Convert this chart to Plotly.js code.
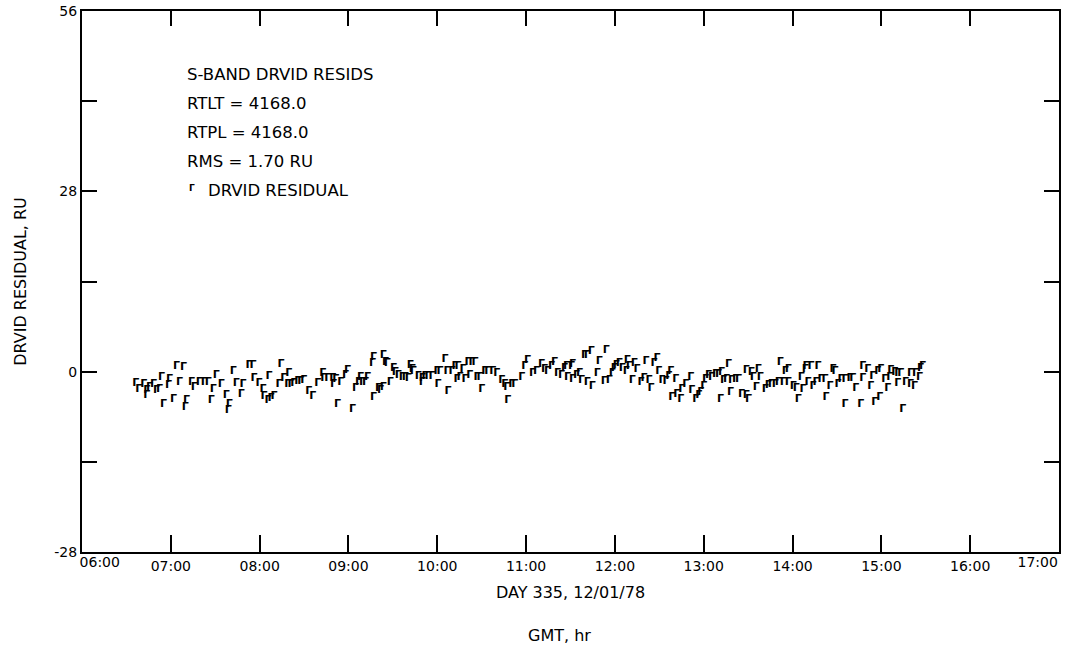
<!DOCTYPE html>
<html>
<head>
<meta charset="utf-8">
<script src="https://cdn.plot.ly/plotly-3.0.1.min.js"></script>
<style>html,body{margin:0;padding:0;background:#fff;}#chart{width:1065px;height:645px;}</style>
</head>
<body>
<div id="chart"></div>
<script>
// GMT hour of each DRVID residual (decimal hours, day 335)
const hours = [
6.605,6.638,6.694,6.728,6.728,6.761,6.806,6.840,6.873,6.896,6.918,6.974,6.985,7.030,7.064,7.097,7.142,7.164,7.176,7.232,
7.265,7.321,7.377,7.422,7.456,7.478,7.512,7.568,7.624,7.646,7.657,7.702,7.736,7.792,7.814,7.881,7.926,7.937,7.993,8.038,
8.049,8.094,8.105,8.127,8.161,8.217,8.240,8.273,8.318,8.329,8.352,8.385,8.430,8.464,8.497,8.553,8.598,8.654,8.710,8.721,
8.766,8.822,8.833,8.856,8.878,8.912,8.968,8.990,9.046,9.080,9.114,9.136,9.158,9.192,9.214,9.270,9.281,9.281,9.337,
9.360,9.393,9.393,9.416,9.438,9.472,9.506,9.528,9.561,9.606,9.640,9.673,9.696,9.718,9.729,9.785,9.830,9.830,9.863,9.897,
9.942,9.998,10.009,10.032,10.088,10.110,10.121,10.166,10.200,10.222,10.233,10.256,10.289,10.312,10.345,10.367,10.390,10.424,10.446,10.480,
10.502,10.536,10.569,10.625,10.670,10.726,10.760,10.782,10.793,10.838,10.872,10.950,10.984,11.017,11.073,11.118,11.174,11.208,11.241,11.286,
11.320,11.354,11.398,11.432,11.455,11.466,11.511,11.522,11.522,11.567,11.601,11.623,11.657,11.690,11.690,11.735,11.746,11.802,11.825,11.881,
11.903,11.937,11.970,11.993,12.015,12.049,12.082,12.127,12.138,12.161,12.194,12.217,12.249,12.294,12.328,12.350,12.384,12.406,12.440,12.473,
12.495,12.529,12.574,12.607,12.630,12.641,12.686,12.697,12.742,12.753,12.798,12.854,12.865,12.910,
12.943,12.966,12.999,13.021,13.055,13.089,13.133,13.167,13.189,13.200,13.223,13.256,13.279,13.301,13.312,13.357,13.391,13.424,13.480,13.480,
13.503,13.536,13.559,13.592,13.615,13.637,13.693,13.727,13.760,13.805,13.839,13.861,13.895,13.917,13.951,13.951,14.007,14.041,14.063,14.097,
14.119,14.142,14.153,14.175,14.209,14.231,14.265,14.287,14.321,14.366,14.377,14.422,14.455,14.478,14.511,14.545,14.590,14.590,14.646,14.679,
14.713,14.769,14.791,14.791,14.847,14.881,14.903,14.926,14.959,14.982,14.993,15.038,15.072,15.094,15.105,15.150,15.184,15.184,15.217,15.240,
15.273,15.329,15.329,15.374,15.385,15.430,15.441,15.464
];
// DRVID residual, RU
const residuals = [
-1.8,-2.7,-2.0,-2.9,-3.7,-2.4,-1.9,-2.9,-2.7,-0.8,-5.1,-2.1,-1.2,-4.3,0.9,-1.6,0.7,-5.5,-4.4,-1.6,
-2.4,-1.6,-1.6,-1.6,-4.4,-2.7,-0.5,-2.0,-3.6,-6.0,-5.0,0.0,-1.8,-3.5,-1.9,1.0,1.0,-1.0,-1.8,-2.7,
-3.8,-4.5,-0.7,-4.2,-3.8,-1.9,1.2,-1.0,-1.9,-0.2,-1.9,-1.8,-1.5,-1.5,-1.3,-3.0,-3.8,-1.8,-0.2,-1.0,
-1.0,-1.0,-1.9,-1.1,-5.1,-1.7,-0.6,0.2,-5.8,-2.6,-1.7,-0.9,-1.7,-1.7,-0.9,1.3,-4.0,2.2,-2.6,
-2.9,2.6,-2.4,1.5,1.3,-1.6,0.6,-0.1,-0.5,-0.8,-0.8,-1.0,1.0,0.3,0.0,-0.7,-1.0,-1.6,-0.7,-0.7,
-0.7,0.0,-2.0,0.0,1.9,0.0,-3.1,0.0,0.8,-1.2,0.8,-0.9,0.3,-1.2,1.4,-0.5,1.4,1.4,-0.8,-0.8,
-2.8,0.1,0.0,0.0,-0.2,-1.4,-1.9,-2.4,-4.5,-1.9,-1.9,-0.8,0.9,1.7,-0.3,0.0,1.2,0.4,0.1,0.9,
1.5,-0.3,-0.6,0.5,0.9,-0.8,0.9,1.2,-1.1,-0.6,-0.3,-1.4,2.5,2.5,-1.6,3.1,-2.2,-0.2,1.6,-1.5,
3.3,-1.3,-0.2,0.6,1.0,1.3,0.6,0.1,1.7,0.9,-1.3,1.3,0.3,-1.7,-1.0,1.6,-1.4,-2.5,1.3,2.1,
0.1,-1.3,-1.5,-0.7,0.1,-4.0,-1.2,-3.5,-4.3,-2.8,-2.0,-0.9,-2.9,-4.3,
-3.6,-3.2,-2.2,-1.2,-0.6,-0.9,-0.4,-0.4,-4.3,-0.1,-1.3,-1.2,1.1,-3.2,-1.3,-1.2,-1.2,-3.5,-3.6,0.2,
-4.3,-0.1,-0.8,-2.4,0.4,-0.8,-2.7,-2.1,-1.9,-1.9,-1.6,1.5,-1.6,0.0,0.3,-1.6,-2.3,-2.6,-4.3,-0.8,
-2.8,0.3,0.8,-1.6,0.8,-2.3,-1.6,0.8,-1.1,-1.2,-3.9,-2.3,0.4,0.0,-1.9,-1.2,-1.2,-5.1,-1.0,-1.0,
-2.5,-5.0,0.9,-1.0,0.4,-2.2,-0.7,-4.8,0.1,-4.0,0.4,-1.1,-2.5,-0.9,0.2,-0.1,-0.3,-1.8,-0.3,-5.8,
-1.7,-1.9,-0.3,-2.2,-0.3,-0.9,0.6,0.9
];
const xTickVals = [7,8,9,10,11,12,13,14,15,16];
const xTickText = ['07:00','08:00','09:00','10:00','11:00','12:00','13:00','14:00','15:00','16:00'];
const xEndVals = [6.2,16.76];
const xEndText = ['06:00','17:00'];
const yTickVals = [-28,-14,0,14,28,42,56];
const yTickText = ['-28','','0','','28','','56'];
const infoLines = ['S-BAND DRVID RESIDS','RTLT = 4168.0','RTPL = 4168.0','RMS = 1.70 RU'];
const legendLabel = 'DRVID RESIDUAL';

const FONT = 'DejaVu Sans';
const X_RANGE = [6, 17];
const Y_RANGE = [-28, 56];
const trace = {
  type: 'scatter', mode: 'text', x: hours, y: residuals, text: 'Γ',
  textposition: 'middle center',
  textfont: {family: FONT, size: 11, color: '#000', weight: 700},
  hoverinfo: 'x+y', showlegend: false
};
const annotations = [];
const lineY = [0.883, 0.829, 0.776, 0.722];
infoLines.forEach((t, i) => annotations.push({
  xref: 'paper', yref: 'paper', x: 0.1054, y: lineY[i], xanchor: 'left', yanchor: 'middle',
  text: t, showarrow: false, font: {family: FONT, size: 16.5, color: '#000'}
}));
annotations.push({xref: 'paper', yref: 'paper', x: 0.1075, y: 0.672, xanchor: 'left', yanchor: 'middle',
  text: 'Γ', showarrow: false, font: {family: FONT, size: 9, color: '#000', weight: 700}});
annotations.push({xref: 'paper', yref: 'paper', x: 0.1265, y: 0.669, xanchor: 'left', yanchor: 'middle',
  text: legendLabel, showarrow: false, font: {family: FONT, size: 16.5, color: '#000'}});
annotations.push({xref: 'paper', yref: 'paper', x: 0.489, y: -0.155, xanchor: 'center', yanchor: 'middle',
  text: 'GMT, hr', showarrow: false, font: {family: FONT, size: 16, color: '#000'}});

const tickFont = {family: FONT, size: 14, color: '#000'};
const layout = {
  width: 1065, height: 645,
  margin: {l: 82, r: 6, t: 11, b: 93},
  paper_bgcolor: '#fff', plot_bgcolor: '#fff',
  showlegend: false,
  xaxis: {
    range: X_RANGE, tickmode: 'array', tickvals: xTickVals, ticktext: xTickText,
    ticks: 'inside', ticklen: 17, tickwidth: 2, tickcolor: '#000',
    showline: true, linecolor: '#000', linewidth: 2, mirror: true,
    showgrid: false, zeroline: false, tickfont: tickFont,
    title: {text: 'DAY 335, 12/01/78', font: {family: FONT, size: 16, color: '#000'}, standoff: 14}
  },
  xaxis2: {
    overlaying: 'x', anchor: 'y', side: 'bottom', range: X_RANGE,
    tickmode: 'array', tickvals: xEndVals, ticktext: xEndText,
    ticks: '', showline: false, showgrid: false, zeroline: false, tickfont: tickFont
  },
  xaxis3: {
    overlaying: 'x', anchor: 'y', side: 'top', range: X_RANGE,
    tickmode: 'array', tickvals: xTickVals, showticklabels: false,
    ticks: 'inside', ticklen: 15, tickwidth: 2, tickcolor: '#000',
    showline: false, showgrid: false, zeroline: false
  },
  yaxis: {
    range: Y_RANGE, tickmode: 'array', tickvals: yTickVals, ticktext: yTickText,
    ticks: 'inside', ticklen: 15, tickwidth: 2, tickcolor: '#000',
    showline: true, linecolor: '#000', linewidth: 2, mirror: true,
    showgrid: false, zeroline: false, tickfont: tickFont,
    title: {text: 'DRVID RESIDUAL, RU', font: {family: FONT, size: 16, color: '#000'}, standoff: 24}
  },
  yaxis2: {
    overlaying: 'y', anchor: 'x', side: 'right', range: Y_RANGE,
    tickmode: 'array', tickvals: yTickVals, showticklabels: false,
    ticks: 'inside', ticklen: 15, tickwidth: 2, tickcolor: '#000',
    showline: false, showgrid: false, zeroline: false
  },
  annotations: annotations
};
const ghost2 = {type: 'scatter', mode: 'markers', x: [6.5], y: [-100], xaxis: 'x2', yaxis: 'y',
  marker: {opacity: 0}, hoverinfo: 'skip', showlegend: false};
const ghost3 = {type: 'scatter', mode: 'markers', x: [6.5], y: [-100], xaxis: 'x3', yaxis: 'y2',
  marker: {opacity: 0}, hoverinfo: 'skip', showlegend: false};
Plotly.newPlot('chart', [trace, ghost2, ghost3], layout, {displayModeBar: false, staticPlot: true});
</script>
</body>
</html>
